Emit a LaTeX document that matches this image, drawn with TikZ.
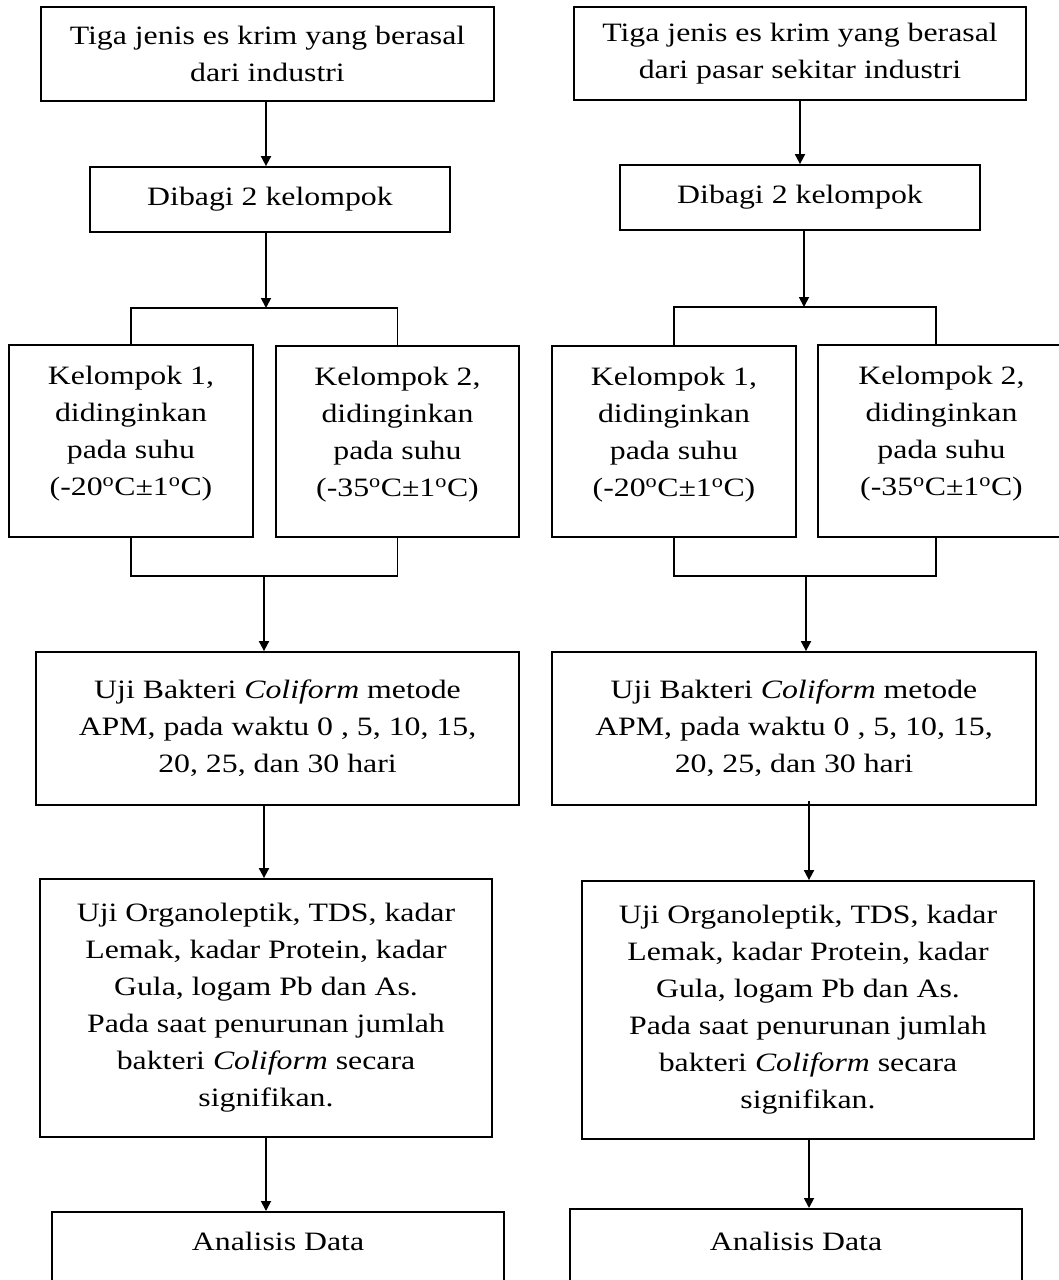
\documentclass[tikz,border=0pt]{standalone}
\usepackage{fontspec}
\setmainfont{Liberation Serif}[FakeStretch=1.2]
\usetikzlibrary{arrows.meta,calc}
\tikzset{
  box/.style={draw, line width=1.8pt, rectangle, inner sep=0pt, align=center,
    font=\fontsize{26.5}{37}\selectfont},
  arr/.style={line width=1.8pt, -{Triangle[length=10pt,width=10pt]}},
  ln/.style={line width=1.8pt}
}
\newcommand{\dg}{\textsuperscript{o}}
\newcommand{\lift}{\\[-17pt]\mbox{}}
\begin{document}
\begin{tikzpicture}[x=1pt,y=-1pt]
\useasboundingbox (0,0) rectangle (1059,1280);
\clip (0,0) rectangle (1059,1280);
\fill[white] (0,0) rectangle (1059,1280);

% ---------- left column ----------
\node[box, minimum width=453pt, minimum height=94pt] (t1) at (267.5,54)
  {Tiga jenis es krim yang berasal\\dari industri};
\node[box, minimum width=360pt, minimum height=65pt] (d1) at (270,199.5)
  {Dibagi 2 kelompok};
\node[box, minimum width=243.5pt, minimum height=192pt] (k11) at (131,441)
  {Kelompok 1,\\didinginkan\\pada suhu\\(-20\dg C±1\dg C)\lift};
\node[box, minimum width=243pt, minimum height=191pt] (k12) at (397.5,441.5)
  {Kelompok 2,\\didinginkan\\pada suhu\\(-35\dg C±1\dg C)\lift};
\node[box, minimum width=483pt, minimum height=153pt] (u1) at (277.5,728.5)
  {Uji Bakteri \textit{Coliform} metode\\APM, pada waktu 0 , 5, 10, 15,\\20, 25, dan 30 hari};
\node[box, minimum width=452pt, minimum height=258pt] (o1) at (266,1008)
  {Uji Organoleptik, TDS, kadar\\Lemak, kadar Protein, kadar\\Gula, logam Pb dan As.\\Pada saat penurunan jumlah\\bakteri \textit{Coliform} secara\\signifikan.};
\node[box, minimum width=452pt, text height=39pt, text depth=90pt, anchor=north] (a1) at (278,1211)
  {Analisis Data};

\coordinate (bt1) at (266,308);
\coordinate (bb1) at (264,576);
\draw[arr] (t1.south -| bt1) -- (d1.north -| bt1);
\draw[arr] (d1.south -| bt1) -- (bt1);
\draw[ln] (k11.north) |- (bt1) -| (k12.north);
\draw[ln] (k11.south) |- (bb1) -| (k12.south);
\draw[arr] (bb1) -- (u1.north -| bb1);
\draw[arr] (u1.south -| bb1) -- (o1.north -| bb1);
\draw[arr] (o1.south -| bt1) -- (a1.north -| bt1);

% ---------- right column ----------
\node[box, minimum width=452pt, minimum height=93pt] (t2) at (800,53.5)
  {Tiga jenis es krim yang berasal\\dari pasar sekitar industri};
\node[box, minimum width=360pt, minimum height=65pt] (d2) at (800,197.5)
  {Dibagi 2 kelompok};
\node[box, minimum width=244pt, minimum height=191pt] (k21) at (674,441.5)
  {Kelompok 1,\\didinginkan\\pada suhu\\(-20\dg C±1\dg C)\lift};
\node[box, minimum width=247pt, minimum height=192pt] (k22) at (941.5,441)
  {Kelompok 2,\\didinginkan\\pada suhu\\(-35\dg C±1\dg C)\lift};
\node[box, minimum width=484pt, minimum height=153pt] (u2) at (794,728.5)
  {Uji Bakteri \textit{Coliform} metode\\APM, pada waktu 0 , 5, 10, 15,\\20, 25, dan 30 hari};
\node[box, minimum width=452pt, minimum height=258pt] (o2) at (808,1010)
  {Uji Organoleptik, TDS, kadar\\Lemak, kadar Protein, kadar\\Gula, logam Pb dan As.\\Pada saat penurunan jumlah\\bakteri \textit{Coliform} secara\\signifikan.};
\node[box, minimum width=452pt, text height=42pt, text depth=90pt, anchor=north] (a2) at (796,1208)
  {Analisis Data};

\coordinate (bt2) at (804,307);
\coordinate (bb2) at (806,576);
\coordinate (cx2) at (809,0);
\draw[arr] (t2.south) -- (d2.north);
\draw[arr] (d2.south -| bt2) -- (bt2);
\draw[ln] (k21.north) |- (bt2) -| ([xshift=-5.5pt]k22.north);
\draw[ln] (k21.south) |- (bb2) -| ([xshift=-5.5pt]k22.south);
\draw[arr] (bb2) -- (u2.north -| bb2);
\draw[arr] ([yshift=5pt]u2.south -| cx2) -- (o2.north -| cx2);
\draw[arr] (o2.south -| cx2) -- (a2.north -| cx2);
\end{tikzpicture}
\end{document}
